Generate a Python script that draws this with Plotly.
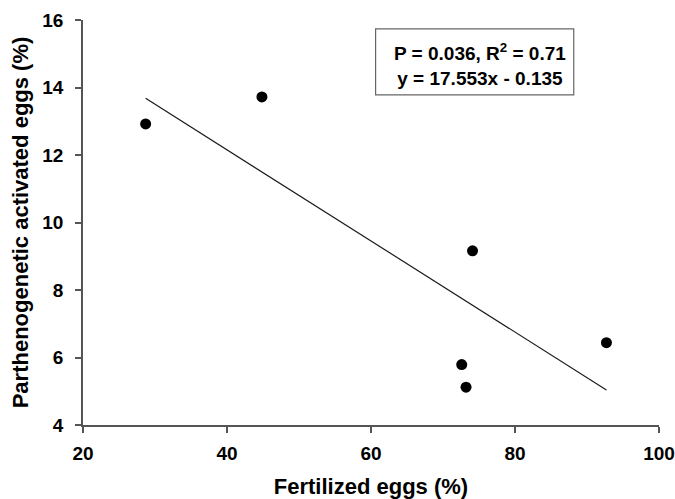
import numpy as np
import plotly.graph_objects as go

# Data
fertilized = [28.7, 44.85, 72.6, 73.2, 74.1, 92.7]
parthenogenetic = [12.92, 13.72, 5.79, 5.12, 9.16, 6.44]

# Regression line as stated (y = 17.553 - 0.135x)
INTERCEPT = 17.553
SLOPE = -0.135

x_ticks = [20, 40, 60, 80, 100]
y_ticks = [4, 6, 8, 10, 12, 14, 16]

stats_text = "P = 0.036, R<sup>2</sup> = 0.71<br>y = 17.553x - 0.135"

FONT = "Liberation Sans, Arial, sans-serif"
AXIS_COLOR = "#555555"

line_x = np.array([min(fertilized), max(fertilized)])
line_y = INTERCEPT + SLOPE * line_x

fig = go.Figure()
fig.add_trace(go.Scatter(
    x=line_x, y=line_y, mode="lines",
    line=dict(color="#1a1a1a", width=1.2),
    showlegend=False, hoverinfo="skip"))
fig.add_trace(go.Scatter(
    x=fertilized, y=parthenogenetic, mode="markers",
    marker=dict(color="black", size=11),
    showlegend=False))

fig.update_layout(
    width=675, height=499,
    margin=dict(l=83, r=16, t=20, b=74, autoexpand=False),
    paper_bgcolor="white", plot_bgcolor="white",
    font=dict(family=FONT, color="black"),
    xaxis=dict(
        range=[20, 100], tickvals=x_ticks, showgrid=False, zeroline=False,
        automargin=False,
        showline=True, linecolor=AXIS_COLOR, linewidth=1.5,
        ticks="outside", ticklen=6, tickcolor=AXIS_COLOR, tickwidth=1.5,
        tickfont=dict(size=19, family=FONT, weight="bold", color="black"),
        ticklabelstandoff=4,
        title=dict(text="Fertilized eggs (%)", standoff=20,
                   font=dict(size=22, family=FONT, weight="bold", color="black")),
    ),
    yaxis=dict(
        range=[4, 16], tickvals=y_ticks, showgrid=False, zeroline=False,
        automargin=False,
        showline=True, linecolor=AXIS_COLOR, linewidth=1.5,
        ticks="outside", ticklen=6, tickcolor=AXIS_COLOR, tickwidth=1.5,
        tickfont=dict(size=19, family=FONT, weight="bold", color="black"),
        ticklabelstandoff=8,
        title=dict(text="Parthenogenetic activated eggs (%)", standoff=8,
                   font=dict(size=22, family=FONT, weight="bold", color="black")),
    ),
    shapes=[dict(type="rect", xref="paper", yref="paper",
                 x0=0.508, x1=0.852, y0=0.815, y1=0.978,
                 line=dict(color="#666666", width=1.2), fillcolor="white", layer="below")],
    annotations=[dict(xref="paper", yref="paper", x=0.689, y=0.89,
                      text=stats_text, showarrow=False, align="center",
                      xanchor="center", yanchor="middle",
                      font=dict(size=19, family=FONT, weight="bold", color="black"))],
)

fig.write_html("out.html")
